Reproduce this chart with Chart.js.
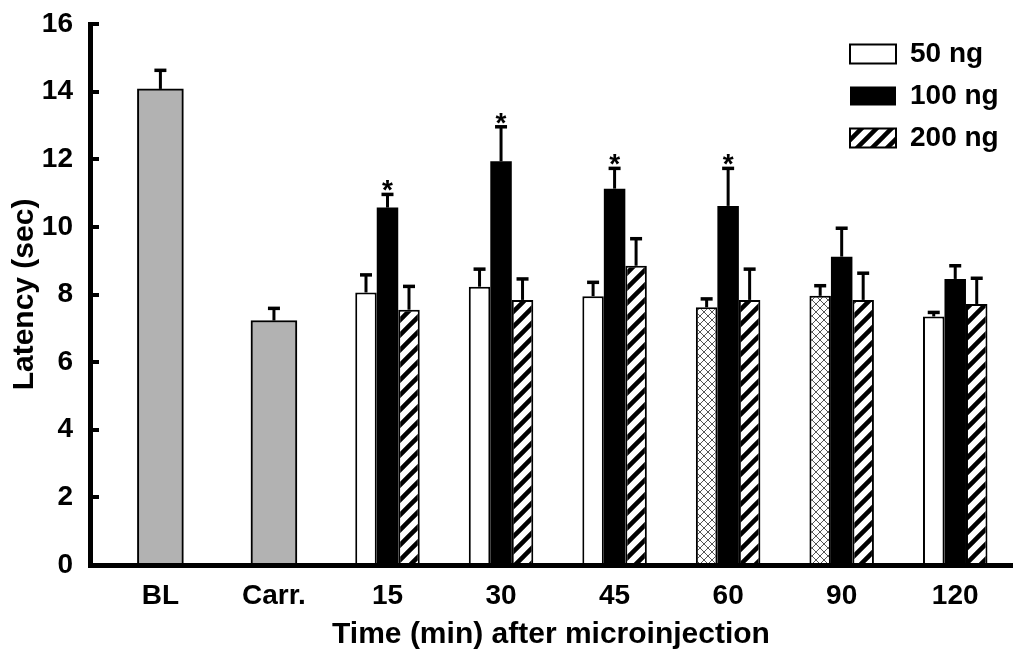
<!DOCTYPE html>
<html lang="en">
<head>
<meta charset="UTF-8">
<title>Latency after microinjection</title>
<script src="https://cdn.jsdelivr.net/npm/chart.js"></script>
<style>
  body { margin: 0; background: #fff; }
  #wrap { width: 1018px; height: 653px; }
</style>
</head>
<body>
<div id="wrap"><canvas id="latencyChart"></canvas></div>
<script>
// values (mean and upper error, sec)
const categories = ['BL', 'Carr.', '15', '30', '45', '60', '90', '120'];
const controlMean = [14.08, 7.23, null, null, null, null, null, null];
const controlErr  = [0.55, 0.36, null, null, null, null, null, null];
const mean50  = [null, null, 8.06, 8.23, 7.95, 7.62, 7.96, 7.35];
const err50   = [null, null, 0.52, 0.52, 0.41, 0.25, 0.30, 0.12];
const mean100 = [null, null, 10.57, 11.94, 11.13, 10.62, 9.12, 8.46];
const err100  = [null, null, 0.39, 1.02, 0.60, 1.11, 0.84, 0.39];
const mean200 = [null, null, 7.55, 7.84, 8.85, 7.84, 7.84, 7.72];
const err200  = [null, null, 0.69, 0.62, 0.80, 0.91, 0.79, 0.76];
const starred100 = ['15', '30', '45', '60'];
const crossHatched50 = ['60', '90'];
const legendNames = ['50 ng', '100 ng', '200 ng'];
const yMin = 0, yMax = 16, yStep = 2;

Chart.defaults.font.family = '"Liberation Sans", Arial, sans-serif';
Chart.defaults.color = '#000';

const canvas = document.getElementById('latencyChart');
const ctx = canvas.getContext('2d');

function makePattern(size, draw) {
    const c = document.createElement('canvas');
    c.width = c.height = size;
    const g = c.getContext('2d');
    g.fillStyle = '#fff';
    g.fillRect(0, 0, size, size);
    draw(g, size);
    return ctx.createPattern(c, 'repeat');
}

// thick "/" stripes
const stripes = makePattern(15, (g, s) => {
    g.strokeStyle = '#000';
    g.lineWidth = 4.5;
    g.beginPath();
    for (const c of [0, s, 2 * s]) {
        g.moveTo(c + 3, -3);
        g.lineTo(-3, c + 3);
    }
    g.stroke();
});

// fine diagonal cross hatch
const crossHatch = makePattern(8, (g, s) => {
    g.strokeStyle = '#555';
    g.lineWidth = 1;
    g.beginPath();
    g.moveTo(-1, -1); g.lineTo(s + 1, s + 1);
    g.moveTo(s + 1, -1); g.lineTo(-1, s + 1);
    g.stroke();
});

const fill50 = categories.map(c => crossHatched50.includes(c) ? crossHatch : '#fff');
const legendFills = ['#fff', '#000', stripes];

const errorBars = {
    id: 'errorBars',
    afterDatasetsDraw(chart) {
        const c = chart.ctx, y = chart.scales.y;
        chart.data.datasets.forEach((ds, d) => {
            const meta = chart.getDatasetMeta(d);
            meta.data.forEach((bar, i) => {
                const v = ds.data[i], e = ds.errors[i];
                if (v == null || e == null) return;
                const top = y.getPixelForValue(v + e);
                c.save();
                c.strokeStyle = '#000';
                c.lineWidth = 3;
                c.beginPath();
                c.moveTo(bar.x, bar.y);
                c.lineTo(bar.x, top);
                c.stroke();
                c.lineWidth = 3.5;
                c.beginPath();
                c.moveTo(bar.x - 6, top);
                c.lineTo(bar.x + 6, top);
                c.stroke();
                if (ds.stars && ds.stars.includes(categories[i])) {
                    c.fillStyle = '#000';
                    c.font = 'bold 28px "Liberation Sans", Arial, sans-serif';
                    c.textAlign = 'center';
                    c.textBaseline = 'alphabetic';
                    const m = c.measureText('*');
                    c.fillText('*', bar.x, top - 3 - m.actualBoundingBoxDescent);
                }
                c.restore();
            });
        });
    }
};

// legend sits inside the plot, top right
const legendSpot = {
    id: 'legendSpot',
    afterLayout(chart) {
        chart.legend.left = 836;
        chart.legend.top = 26;
    }
};

new Chart(ctx, {
    type: 'bar',
    data: {
        labels: categories,
        datasets: [
            { label: 'control', data: controlMean, errors: controlErr, backgroundColor: '#b2b2b2',
              borderColor: '#000', borderWidth: 2, barThickness: 46 },
            { label: legendNames[0], data: mean50, errors: err50, backgroundColor: fill50,
              borderColor: '#000', borderWidth: 2 },
            { label: legendNames[1], data: mean100, errors: err100, stars: starred100,
              backgroundColor: '#000', borderWidth: 0 },
            { label: legendNames[2], data: mean200, errors: err200, backgroundColor: stripes,
              borderColor: '#000', borderWidth: 2 }
        ]
    },
    options: {
        responsive: true,
        maintainAspectRatio: false,
        animation: false,
        devicePixelRatio: 1,
        layout: { padding: { top: 24, right: 6, left: 0, bottom: 0 } },
        datasets: { bar: { skipNull: true, categoryPercentage: 0.568, barPercentage: 1 } },
        scales: {
            x: {
                z: 1,
                grid: { drawOnChartArea: false, drawTicks: false, color: '#000' },
                border: { display: true, color: '#000', width: 5 },
                ticks: { padding: 14, color: '#000', maxRotation: 0, autoSkip: false,
                         font: { size: 28, weight: 'bold' } },
                title: { display: true, text: 'Time (min) after microinjection', color: '#000',
                         font: { size: 30, weight: 'bold' }, padding: { top: 0, bottom: 0 } },
                afterFit: s => { s.height = 88; s.paddingLeft = 0; s.paddingRight = 0; },
                afterBuildTicks: s => { s._startValue = -0.62; s._valueRange = 8.12; }
            },
            y: {
                z: 1,
                min: yMin,
                max: yMax,
                ticks: { stepSize: yStep, padding: 26, color: '#000',
                         font: { size: 28, weight: 'bold' } },
                grid: { drawOnChartArea: false, drawTicks: true, tickLength: -9, lineWidth: 4, color: '#000' },
                border: { display: true, color: '#000', width: 5 },
                title: { display: true, text: 'Latency (sec)', color: '#000',
                         font: { size: 30, weight: 'bold' }, padding: { top: 7, bottom: 0 } },
                afterFit: s => { s.width = 90; s.paddingTop = 0; s.paddingBottom = 0; }
            }
        },
        plugins: {
            tooltip: { enabled: false },
            legend: {
                position: 'chartArea',
                align: 'start',
                labels: {
                    boxWidth: 46,
                    boxHeight: 19,
                    padding: 14,
                    color: '#000',
                    font: { size: 28, weight: 'bold' },
                    generateLabels: () => legendNames.map((name, k) => ({
                        text: name,
                        fillStyle: legendFills[k],
                        strokeStyle: '#000',
                        lineWidth: k === 1 ? 0 : 2,
                        hidden: false,
                        datasetIndex: k + 1
                    }))
                }
            }
        }
    },
    plugins: [errorBars, legendSpot]
});
</script>
</body>
</html>
